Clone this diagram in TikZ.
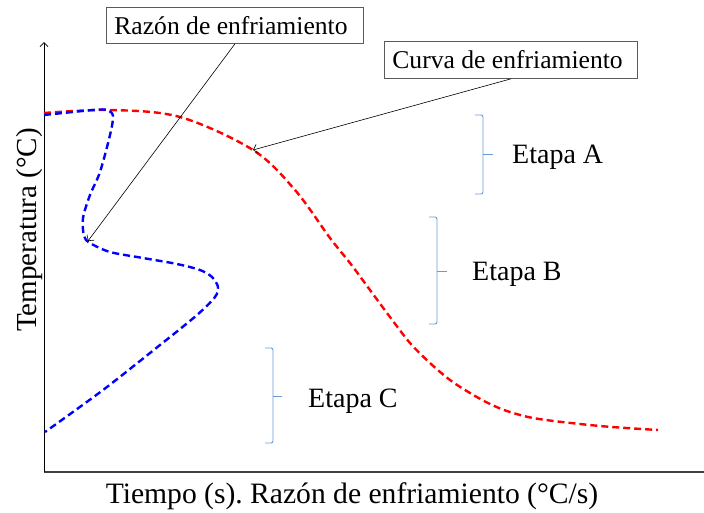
\documentclass[tikz,border=0pt]{standalone}
\usepackage{fontspec}
\setmainfont{Liberation Serif}
\usetikzlibrary{arrows.meta}
\definecolor{bracecol}{HTML}{6A9BD8}
\definecolor{axiscol}{HTML}{404040}
\definecolor{boxcol}{HTML}{5A5A5A}
\tikzset{
  curvestyle/.style={line width=2.4pt, dash pattern=on 7pt off 4pt},
  callout/.style={draw=boxcol, line width=0.8pt, fill=white, inner sep=0pt, anchor=north west,
    font=\fontsize{25.6}{28}\selectfont},
  leader/.style={black, line width=0.6pt, -{Straight Barb[length=4pt,width=9pt]}},
  bracestyle/.style={draw=bracecol, line width=0.9pt, rounded corners=2pt},
  etapa/.style={anchor=base west, inner sep=0pt, font=\fontsize{28}{32}\selectfont},
}
\begin{document}
\frenchspacing
\begin{tikzpicture}[x=1pt,y=-1pt]
\useasboundingbox (0,0) rectangle (704,512);

% axes
\coordinate (origin) at (44,472);
\coordinate (ytop) at (44,42);
\coordinate (xend) at (704,472);
\draw[axiscol, line width=1.3pt] (origin) -- (xend);
\draw[black, line width=0.8pt, -{Straight Barb[length=4pt,width=8pt]}] (origin) -- (ytop);

% axis labels
\node[anchor=base, inner sep=0pt, font=\fontsize{29.6}{32}\selectfont] (xlab) at (352,503)
  {Tiempo (s). Razón de enfriamiento (°C/s)};
\node[anchor=base, inner sep=0pt, rotate=90, font=\fontsize{29}{32}\selectfont] (ylab) at (36,230)
  {Temperatura (°C)};

% red cooling curve
\draw[red, curvestyle] plot[smooth, tension=0.55] coordinates {
  (44,113) (110,110) (180,117) (253,150) (295,190) (330,238) (350,263) (370,290)
  (390,317) (410,343) (430,363) (450,380) (470,393) (490,404) (510,412) (539,419)
  (600,426) (658,430)};

% blue cooling-rate curve
\draw[blue, curvestyle] plot[smooth, tension=0.5] coordinates {
  (44,115) (93,110) (107,110) (113,116) (110,135) (100,172) (90,195) (83,218)
  (84,236) (90,243) (110,252) (143,258) (177,264) (200,270) (212,277) (218,287)
  (215,297) (197,315) (160,345) (103,390) (45,432)};

% callout boxes
\node[callout, minimum width=257pt, minimum height=36pt] (razon) at (106,7)
  {\hspace*{8pt}Razón de enfriamiento\hspace*{16pt}};
\node[callout, minimum width=253pt, minimum height=37pt] (curva) at (384,41)
  {\hspace*{8pt}Curva de enfriamiento\hspace*{15pt}};
\coordinate (tipR) at (88,241);
\coordinate (tipC) at (253,150);
\draw[leader] (razon.south) -- (tipR);
\draw[leader] (curva.south) -- (tipC);

% braces
\draw[bracestyle] (475,115) -- (483,115) -- (483,194) -- (475,194);
\draw[bracecol, line width=0.9pt] (483,154) -- (493,154);
\draw[bracestyle] (429,217) -- (437,217) -- (437,324) -- (429,324);
\draw[bracecol, line width=0.9pt] (437,271) -- (447,271);
\draw[bracestyle] (265,348) -- (273,348) -- (273,443) -- (265,443);
\draw[bracecol, line width=0.9pt] (273,396) -- (282,396);

% stage labels
\node[etapa] (etA) at (512,163) {Etapa A};
\node[etapa] (etB) at (472,280) {Etapa B};
\node[etapa] (etC) at (308,407) {Etapa C};
\end{tikzpicture}
\end{document}
